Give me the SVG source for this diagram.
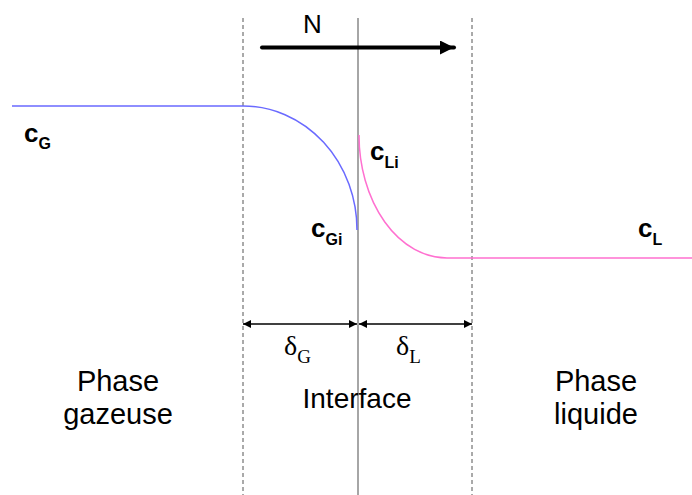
<svg xmlns="http://www.w3.org/2000/svg" width="692" height="495" viewBox="0 0 692 495">
<style>
.dash{stroke:#555;stroke-width:1;stroke-dasharray:4,3;fill:none}
.sans{font-family:"Liberation Sans",Arial,sans-serif;fill:#000}
.lbl{font-family:"Liberation Sans",Arial,sans-serif;font-weight:bold;fill:#000}
.ser{font-family:"Liberation Serif","Times New Roman",serif;fill:#000}
.dim{stroke:#000;stroke-width:1.5;fill:none;marker-start:url(#ah);marker-end:url(#ah)}
</style>
<defs>
<marker id="ah" viewBox="0 0 10 10" refX="10" refY="5" markerWidth="10" markerHeight="8" markerUnits="userSpaceOnUse" orient="auto-start-reverse">
<path d="M0,0 L10,5 L0,10 z" fill="#000"/>
</marker>
<marker id="big" viewBox="0 0 10 10" refX="10" refY="5" markerWidth="15" markerHeight="14" markerUnits="userSpaceOnUse" orient="auto">
<path d="M0,0 L10,5 L0,10 z" fill="#000"/>
</marker>
</defs>
<rect width="692" height="495" fill="#fff"/>
<g id="connectors">
<line class="dash" x1="243" y1="18" x2="243" y2="495"/>
<line class="dash" x1="472" y1="18" x2="472" y2="495"/>
<line x1="358" y1="18" x2="358" y2="495" stroke="#888" stroke-width="1.5"/>
<line x1="262" y1="47.5" x2="454" y2="47.5" stroke="#000" stroke-width="4" stroke-linecap="round" marker-end="url(#big)"/>
<path d="M12,106 L243,106 A114,124 0 0 1 357,230" stroke="#6a6aff" stroke-width="1.5" fill="none"/>
<path d="M359,135 A88,123 0 0 0 447,258 L692,258" stroke="#ff70d0" stroke-width="1.5" fill="none"/>
<line class="dim" x1="243" y1="324" x2="357" y2="324"/>
<line class="dim" x1="359" y1="324" x2="472" y2="324"/>
</g>
<g id="N"><text class="sans" x="303" y="33" font-size="26">N</text></g>
<g id="cG"><text class="lbl" x="24" y="142" font-size="26">c<tspan font-size="16" dy="7">G</tspan></text></g>
<g id="cGi"><text class="lbl" x="311" y="237" font-size="26">c<tspan font-size="16" dy="8">Gi</tspan></text></g>
<g id="cLi"><text class="lbl" x="370" y="160" font-size="26">c<tspan font-size="16" dy="8">Li</tspan></text></g>
<g id="cL"><text class="lbl" x="638" y="237" font-size="26">c<tspan font-size="16" dy="8">L</tspan></text></g>
<g id="deltaG"><text class="ser" x="284" y="355" font-size="28">δ<tspan font-size="19" dy="8">G</tspan></text></g>
<g id="deltaL"><text class="ser" x="396" y="355" font-size="28">δ<tspan font-size="19" dy="8">L</tspan></text></g>
<g id="gaz"><text class="sans" font-size="29" text-anchor="middle"><tspan x="118" y="391">Phase</tspan><tspan x="118" y="424">gazeuse</tspan></text></g>
<g id="interface"><text class="sans" x="357" y="408" font-size="28" text-anchor="middle">Interface</text></g>
<g id="liq"><text class="sans" font-size="29" text-anchor="middle"><tspan x="596" y="391">Phase</tspan><tspan x="596" y="424">liquide</tspan></text></g>
</svg>
